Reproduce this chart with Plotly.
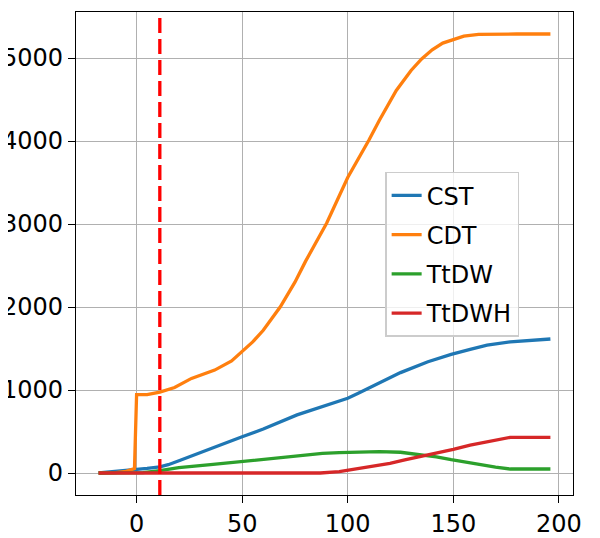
import plotly.graph_objects as go

# ---- data ----
cdt_x = [-18, -10, -5, -1, 0, 5, 11, 18, 26, 37, 45, 50, 55, 60, 68, 75, 80, 90, 100, 110, 115, 123, 130, 135, 140, 145, 150, 155, 162, 170, 180, 196]
cdt_y = [0, 5, 20, 55, 945, 945, 975, 1030, 1140, 1240, 1350, 1460, 1580, 1720, 2000, 2300, 2550, 3010, 3560, 4010, 4250, 4610, 4850, 4990, 5100, 5180, 5225, 5265, 5285, 5290, 5290, 5290]

cst_x = [-18, -2, 5, 11, 15, 21, 30, 40, 50, 60, 76, 90, 96, 100, 105, 110, 115, 125, 138, 149, 158, 166, 177, 186, 196]
cst_y = [0, 35, 55, 75, 100, 157, 240, 340, 437, 530, 700, 820, 870, 900, 960, 1020, 1080, 1210, 1340, 1430, 1490, 1540, 1580, 1600, 1615]

ttdw_x = [-18, 3, 11, 20, 35, 50, 70, 88, 96, 105, 115, 125, 135, 142, 149, 160, 170, 177, 196]
ttdw_y = [0, 5, 30, 65, 100, 137, 190, 237, 245, 250, 257, 250, 217, 195, 160, 110, 70, 48, 48]

ttdwh_x = [-18, 87, 96, 105, 112, 120, 127, 135, 141, 150, 158, 168, 177, 196]
ttdwh_y = [0, 0, 16, 50, 76, 115, 157, 200, 229, 285, 337, 385, 430, 430]

marker_x = 11

x_ticks = [0, 50, 100, 150, 200]
y_ticks = [0, 1000, 2000, 3000, 4000, 5000]

series = [
    ("CST", cst_x, cst_y, "#1f77b4"),
    ("CDT", cdt_x, cdt_y, "#ff7f0e"),
    ("TtDW", ttdw_x, ttdw_y, "#2ca02c"),
    ("TtDWH", ttdwh_x, ttdwh_y, "#d62728"),
]

fig = go.Figure()
for name, xs, ys, col in series:
    fig.add_trace(go.Scatter(x=xs, y=ys, mode="lines", name=name, legendgroup=name,
                             line=dict(color=col, width=3.3)))

fig.add_shape(type="line", xref="x", yref="paper", x0=marker_x, x1=marker_x, y0=0, y1=1,
              line=dict(color="#ff0000", width=3.3, dash="15px,6px"), layer="above")

axis_common = dict(showline=True, linecolor="black", linewidth=1.3, mirror=True,
                   ticks="outside", ticklen=7, tickwidth=1.3, tickcolor="black",
                   showgrid=True, gridcolor="#b0b0b0", gridwidth=1.3, zeroline=False,
                   automargin=False,
                   tickfont=dict(size=24, color="black"))

fig.update_layout(
    width=600, height=538,
    margin=dict(l=68, r=35, t=4, b=51),
    paper_bgcolor="white", plot_bgcolor="white",
    font=dict(family="DejaVu Sans", size=24, color="black"),
    xaxis=dict(range=[-28.7, 206.7], tickvals=x_ticks, **axis_common),
    yaxis=dict(range=[-265, 5555], tickvals=y_ticks, **axis_common),
    legend=dict(x=0.622, y=0.669, xanchor="left", yanchor="top",
                bgcolor="rgba(255,255,255,0.8)", bordercolor="#cccccc", borderwidth=1.5,
                font=dict(size=24), tracegroupgap=5, entrywidth=168),
    showlegend=True,
)

fig.write_html("out.html")
